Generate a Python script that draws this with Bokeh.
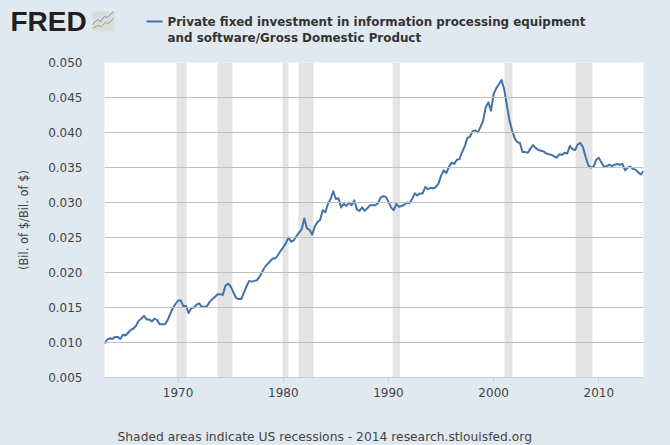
from bokeh.plotting import figure
from bokeh.embed import file_html
from bokeh.layouts import column
from bokeh.resources import INLINE
from bokeh.models import Range1d, FixedTicker, NumeralTickFormatter
from bokeh.core.properties import value

BG = "#e1e9f0"
start_year = 1963.0
values = [
    .00986,.0104,.0106,.0105,.0108,.0108,.0105,.0111,.0110,.0114,.0118,.0120,.0124,.0131,.0134,.0138,
    .0133,.0133,.0130,.0134,.0132,.0126,.0126,.0126,.0132,.0141,.0149,.0155,.0160,.0160,.0152,.0152,
    .0142,.0149,.0150,.0154,.0156,.0151,.0151,.0152,.0158,.0162,.0165,.0169,.0169,.0168,.0181,.0184,
    .0180,.0172,.0164,.0162,.0162,.0171,.0180,.0188,.0187,.0188,.0189,.0194,.0201,.0208,.0212,.0216,
    .0220,.0220,.0225,.0231,.0236,.0242,.0250,.0244,.0246,.0252,.0257,
    .0262,.0277,.0263,.0261,.0254,.0266,.0272,.0275,.0289,.0286,.0298,.0305,.0316,.0305,.0306,.0293,
    .0298,.0295,.0300,.0296,.0303,.0290,.0288,.0293,.0288,.0292,.0296,.0296,.0296,.0299,.0307,.0309,
    .0308,.0301,.0293,.0289,.0298,.0294,.0295,.0297,.0300,.0299,.0305,.0313,.0310,.0313,.0313,.0322,
    .0319,.0321,.0320,.0322,.0327,.0338,.0346,.0342,.0351,.0357,.0355,.0361,.0362,.0372,.0380,.0392,
    .0394,.0402,.0403,.0400,.0408,.0417,.0436,.0443,.0431,.0455,.0463,.0469,
    .0475,.0462,.0440,.0418,.0403,.0392,.0386,.0385,.0372,.0372,.0371,.0377,.0382,
    .0378,.0375,.0374,.0373,.0370,.0369,.0368,.0366,.0364,.0369,.0368,.0371,.0370,.0381,.0376,.0375,
    .0383,.0385,.0379,.0365,.0353,.0350,.0351,.0361,.0364,.0357,.0351,.0352,.0354,.0352,.0354,.0355,
    .0354,.0355,.0346,.0350,.0351,.0348,.0347,.0343,.0340,.0345,
]
dates = [start_year + i * 0.25 for i in range(len(values))]
rec_start = [1969.85, 1973.75, 1979.93, 1981.45, 1990.4, 2001.03, 2007.8]
rec_end = [1970.8, 1975.17, 1980.5, 1982.87, 1991.1, 2001.8, 2009.4]
x_ticks = [1970, 1980, 1990, 2000, 2010]
y_ticks = [0.005, 0.010, 0.015, 0.020, 0.025, 0.030, 0.035, 0.040, 0.045, 0.050]
title_lines = ["Private fixed investment in information processing equipment",
               "and software/Gross Domestic Product"]
y_title = "(Bil. of $/Bil. of $)"
footer_text = "Shaded areas indicate US recessions - 2014 research.stlouisfed.org"

W = 670
HEADER_H = 50
FOOTER_H = 30
MAIN_H = 445 - HEADER_H - FOOTER_H


def strip(height, y0):
    f = figure(width=W, height=height, output_backend="svg", toolbar_location=None,
               x_range=Range1d(0, W), y_range=Range1d(y0 + height, y0), frame_align=False,
               min_border=0, background_fill_color=BG, border_fill_color=BG, outline_line_color=None)
    f.axis.visible = False
    f.grid.visible = False
    return f


# header: logo and legend
head = strip(HEADER_H, 0)
head.text(x=[10], y=[21], text=["FRED"], text_font=value("Liberation Sans"), text_font_style="bold",
          text_font_size="28px", text_color="#231f20", text_baseline="middle")
head.quad(left=[92], right=[114], top=[11], bottom=[31], fill_color="#d9dcdb", line_color=None)
head.line([92, 97, 100, 104, 107, 113], [24, 19, 21, 16, 17, 11], line_color="#6f9bc2", line_width=1)
head.line([92, 97, 101, 105, 108, 113], [28, 25, 26, 22, 23, 18], line_color="#8fb05a", line_width=1)
head.line([146, 162], [21, 21], line_color="#4572a7", line_width=2)
head.text(x=[167, 167], y=[21, 37], text=title_lines, text_font=value("DejaVu Sans"), text_font_style="bold",
          text_font_size="11.9px", text_color="#333333", text_baseline="middle")

# main chart
p = figure(width=W, height=MAIN_H, output_backend="svg", toolbar_location=None,
           x_range=Range1d(1963.0, 2014.25), y_range=Range1d(0.005, 0.050), frame_align=False,
           min_border_left=104, min_border_right=27, min_border_top=62 - HEADER_H,
           min_border_bottom=HEADER_H + MAIN_H - 377,
           background_fill_color="white", border_fill_color=BG, outline_line_color=None)
p.xgrid.visible = False
p.ygrid.ticker = FixedTicker(ticks=y_ticks)
p.ygrid.grid_line_color = "#c0c0c0"
p.ygrid.grid_line_width = 1
p.ygrid.level = "glyph"

xa = p.xaxis[0]
xa.ticker = FixedTicker(ticks=x_ticks)
xa.axis_line_color = "#c0d0e0"
xa.major_tick_line_color = "#c0d0e0"
xa.major_tick_out = 5
xa.major_tick_in = 0
xa.minor_tick_line_color = None
xa.major_label_standoff = 5
xa.major_label_text_font = "DejaVu Sans"
xa.major_label_text_font_size = "12px"
xa.major_label_text_color = "#444444"

ya = p.yaxis[0]
ya.ticker = FixedTicker(ticks=y_ticks)
ya.formatter = NumeralTickFormatter(format="0.000")
ya.axis_line_color = None
ya.major_tick_line_color = None
ya.major_tick_out = 0
ya.major_tick_in = 0
ya.minor_tick_line_color = None
ya.minor_tick_out = 0
ya.major_label_standoff = 22
ya.major_label_text_font = "DejaVu Sans"
ya.major_label_text_font_size = "12px"
ya.major_label_text_color = "#444444"
ya.axis_label = y_title
ya.axis_label_standoff = 14
ya.axis_label_text_font = "DejaVu Sans"
ya.axis_label_text_font_style = "normal"
ya.axis_label_text_font_size = "11.5px"
ya.axis_label_text_color = "#444444"

p.quad(left=rec_start, right=rec_end, bottom=0.005, top=0.050,
       fill_color="#e4e4e4", line_color=None, level="underlay")
p.line(dates, values, line_color="#4572a7", line_width=2, line_join="round")

# footer
foot = strip(FOOTER_H, HEADER_H + MAIN_H)
foot.text(x=[117], y=[436], text=[footer_text], text_font=value("DejaVu Sans"),
          text_font_size="12.3px", text_color="#444444", text_baseline="middle")

page = column(head, p, foot, spacing=0)
html = file_html(page, INLINE)
html = html.replace("<head>", "<head><style>html,body{background:%s;}</style>" % BG, 1)
open("out.html", "w").write(html)
